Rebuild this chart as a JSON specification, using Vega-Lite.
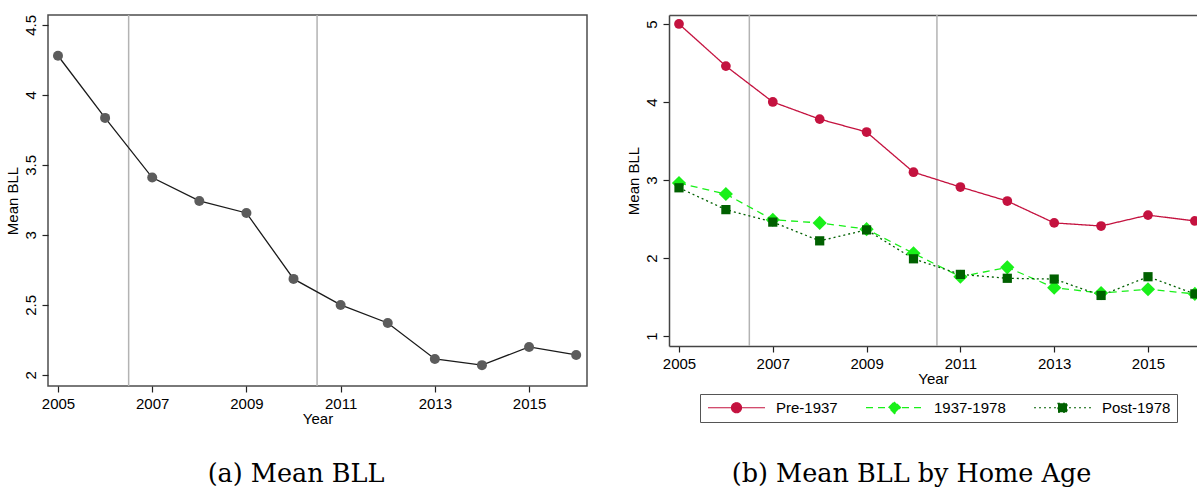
{
  "$schema": "https://vega.github.io/schema/vega-lite/v6.json",
  "padding": {"left": 4, "top": 13, "right": 0, "bottom": 0},
  "background": "white",
  "datasets": {
    "overall": [
      {"year": 2005, "bll": 4.28},
      {"year": 2006, "bll": 3.836},
      {"year": 2007, "bll": 3.41},
      {"year": 2008, "bll": 3.243},
      {"year": 2009, "bll": 3.157},
      {"year": 2010, "bll": 2.686},
      {"year": 2011, "bll": 2.5},
      {"year": 2012, "bll": 2.371},
      {"year": 2013, "bll": 2.114},
      {"year": 2014, "bll": 2.07},
      {"year": 2015, "bll": 2.2},
      {"year": 2016, "bll": 2.143}
    ],
    "byAge": [
      {"year": 2005, "group": "Pre-1937", "bll": 5.0},
      {"year": 2006, "group": "Pre-1937", "bll": 4.46},
      {"year": 2007, "group": "Pre-1937", "bll": 4.0},
      {"year": 2008, "group": "Pre-1937", "bll": 3.78},
      {"year": 2009, "group": "Pre-1937", "bll": 3.615},
      {"year": 2010, "group": "Pre-1937", "bll": 3.1},
      {"year": 2011, "group": "Pre-1937", "bll": 2.91},
      {"year": 2012, "group": "Pre-1937", "bll": 2.73},
      {"year": 2013, "group": "Pre-1937", "bll": 2.45},
      {"year": 2014, "group": "Pre-1937", "bll": 2.41},
      {"year": 2015, "group": "Pre-1937", "bll": 2.55},
      {"year": 2016, "group": "Pre-1937", "bll": 2.475},
      {"year": 2005, "group": "1937-1978", "bll": 2.96},
      {"year": 2006, "group": "1937-1978", "bll": 2.82},
      {"year": 2007, "group": "1937-1978", "bll": 2.49},
      {"year": 2008, "group": "1937-1978", "bll": 2.45},
      {"year": 2009, "group": "1937-1978", "bll": 2.37},
      {"year": 2010, "group": "1937-1978", "bll": 2.06},
      {"year": 2011, "group": "1937-1978", "bll": 1.76},
      {"year": 2012, "group": "1937-1978", "bll": 1.88},
      {"year": 2013, "group": "1937-1978", "bll": 1.62},
      {"year": 2014, "group": "1937-1978", "bll": 1.55},
      {"year": 2015, "group": "1937-1978", "bll": 1.6},
      {"year": 2016, "group": "1937-1978", "bll": 1.54},
      {"year": 2005, "group": "Post-1978", "bll": 2.9},
      {"year": 2006, "group": "Post-1978", "bll": 2.62},
      {"year": 2007, "group": "Post-1978", "bll": 2.46},
      {"year": 2008, "group": "Post-1978", "bll": 2.22},
      {"year": 2009, "group": "Post-1978", "bll": 2.36},
      {"year": 2010, "group": "Post-1978", "bll": 1.99},
      {"year": 2011, "group": "Post-1978", "bll": 1.79},
      {"year": 2012, "group": "Post-1978", "bll": 1.74},
      {"year": 2013, "group": "Post-1978", "bll": 1.73},
      {"year": 2014, "group": "Post-1978", "bll": 1.52},
      {"year": 2015, "group": "Post-1978", "bll": 1.76},
      {"year": 2016, "group": "Post-1978", "bll": 1.54}
    ],
    "breaks": [{"year": 2006.5}, {"year": 2010.5}]
  },
  "config": {
    "font": "Liberation Sans",
    "axis": {
      "labelFontSize": 15,
      "titleFontSize": 15,
      "titleFontWeight": "normal",
      "labelColor": "#000000",
      "titleColor": "#000000",
      "tickColor": "#222222",
      "tickSize": 6,
      "tickWidth": 1.2,
      "domainColor": "#444444",
      "domainWidth": 1.5,
      "grid": false
    },
    "view": {"stroke": "#4d4d4d", "strokeWidth": 1.5},
    "title": {"font": "DejaVu Serif", "fontSize": 25.5, "fontWeight": "normal", "color": "#000000"}
  },
  "spacing": 38,
  "hconcat": [
    {
      "width": 539,
      "height": 371,
      "title": {"text": "(a) Mean BLL", "orient": "bottom", "anchor": "middle", "frame": "bounds", "baseline": "top", "offset": 36},
      "layer": [
        {
          "data": {"name": "breaks"},
          "mark": {"type": "rule", "color": "#b3b3b3", "strokeWidth": 1.5},
          "encoding": {
            "x": {
              "field": "year", "type": "quantitative",
              "scale": {"domain": [2004.788, 2016.23], "nice": false, "zero": false},
              "axis": {"values": [2005, 2007, 2009, 2011, 2013, 2015], "format": "d", "title": "Year", "domain": false, "labelPadding": 4, "titlePadding": 0}
            }
          }
        },
        {
          "data": {"name": "overall"},
          "mark": {"type": "line", "color": "#1a1a1a", "strokeWidth": 1.3},
          "encoding": {
            "x": {"field": "year", "type": "quantitative"},
            "y": {
              "field": "bll", "type": "quantitative",
              "scale": {"domain": [1.921, 4.571], "nice": false, "zero": false},
              "axis": {"values": [2, 2.5, 3, 3.5, 4, 4.5], "format": "~g", "title": "Mean BLL", "labelAngle": -90, "domain": false, "labelPadding": 4, "titlePadding": 3}
            }
          }
        },
        {
          "data": {"name": "overall"},
          "mark": {"type": "point", "shape": "circle", "filled": true, "color": "#5c5c5c", "opacity": 1, "size": 100},
          "encoding": {
            "x": {"field": "year", "type": "quantitative"},
            "y": {"field": "bll", "type": "quantitative"}
          }
        }
      ]
    },
    {
      "width": 528,
      "height": 331,
      "view": {"stroke": null},
      "title": {"text": "(b) Mean BLL by Home Age", "orient": "bottom", "anchor": "middle", "frame": "bounds", "baseline": "top", "offset": 76},
      "layer": [
        {
          "data": {"name": "breaks"},
          "mark": {"type": "rule", "color": "#b3b3b3", "strokeWidth": 1.5},
          "encoding": {
            "x": {
              "field": "year", "type": "quantitative",
              "scale": {"domain": [2004.787, 2016.045], "nice": false, "zero": false},
              "axis": {"orient": "top", "labels": false, "ticks": false, "title": null, "domain": true, "domainColor": "#4d4d4d"}
            }
          }
        },
        {
          "data": {"name": "byAge"},
          "mark": {"type": "line", "strokeWidth": 1.3, "clip": true},
          "encoding": {
            "x": {
              "field": "year", "type": "quantitative",
              "axis": {"orient": "bottom", "values": [2005, 2007, 2009, 2011, 2013, 2015], "format": "d", "title": "Year", "domain": true, "labelPadding": 4, "titlePadding": 0}
            },
            "y": {
              "field": "bll", "type": "quantitative",
              "scale": {"domain": [0.872, 5.115], "nice": false, "zero": false},
              "axis": {"values": [1, 2, 3, 4, 5], "format": "~g", "title": "Mean BLL", "labelAngle": -90, "domain": true, "labelPadding": 4, "titlePadding": 3}
            },
            "color": {
              "field": "group", "type": "nominal",
              "scale": {"domain": ["Pre-1937", "1937-1978", "Post-1978"], "range": ["#c4123f", "#19f019", "#006000"]},
              "legend": {
                "title": null,
                "orient": "none",
                "legendX": 652,
                "legendY": 379,
                "direction": "horizontal",
                "strokeColor": "#555555",
                "padding": 6,
                "columnPadding": 25,
                "labelFontSize": 15,
                "labelColor": "#000000",
                "labelOffset": 55,
                "symbolSize": 100,
                "symbolStrokeWidth": 1.2,
                "encode": {
                  "symbols": {
                    "update": {
                      "shape": {"signal": "datum.value === 'Pre-1937' ? 'M-1.1,0H10.3M3.6,0A1,1 0 1,0 5.6,0A1,1 0 1,0 3.6,0Z' : datum.value === '1937-1978' ? 'M-1.1,0H10.3M3.4,0L4.6,-1.2L5.8,0L4.6,1.2Z' : 'M-1.1,0H10.3M3.7,-0.9H5.5V0.9H3.7Z'"},
                      "fill": {"scale": "color", "field": "value"},
                      "stroke": {"scale": "color", "field": "value"},
                      "strokeDash": {"scale": "strokeDash", "field": "value"},
                      "size": {"value": 100}
                    }
                  }
                }
              }
            },
            "strokeDash": {
              "field": "group", "type": "nominal",
              "scale": {"domain": ["Pre-1937", "1937-1978", "Post-1978"], "range": [[1, 0], [7, 5], [2, 3]]},
              "legend": null
            }
          }
        },
        {
          "data": {"name": "byAge"},
          "transform": [{"filter": "datum.group === 'Pre-1937'"}],
          "mark": {"type": "point", "shape": "circle", "filled": true, "opacity": 1, "size": 95, "clip": true},
          "encoding": {
            "x": {"field": "year", "type": "quantitative", "axis": null},
            "y": {"field": "bll", "type": "quantitative"},
            "color": {"field": "group", "type": "nominal", "legend": null}
          }
        },
        {
          "data": {"name": "byAge"},
          "transform": [{"filter": "datum.group === '1937-1978'"}],
          "mark": {"type": "point", "shape": "diamond", "filled": true, "opacity": 1, "size": 200, "clip": true},
          "encoding": {
            "x": {"field": "year", "type": "quantitative", "axis": null},
            "y": {"field": "bll", "type": "quantitative"},
            "color": {"field": "group", "type": "nominal", "legend": null}
          }
        },
        {
          "data": {"name": "byAge"},
          "transform": [{"filter": "datum.group === 'Post-1978'"}],
          "mark": {"type": "point", "shape": "square", "filled": true, "opacity": 1, "size": 85, "clip": true},
          "encoding": {
            "x": {"field": "year", "type": "quantitative", "axis": null},
            "y": {"field": "bll", "type": "quantitative"},
            "color": {"field": "group", "type": "nominal", "legend": null}
          }
        }
      ],
      "resolve": {"axis": {"x": "independent"}}
    }
  ]
}
